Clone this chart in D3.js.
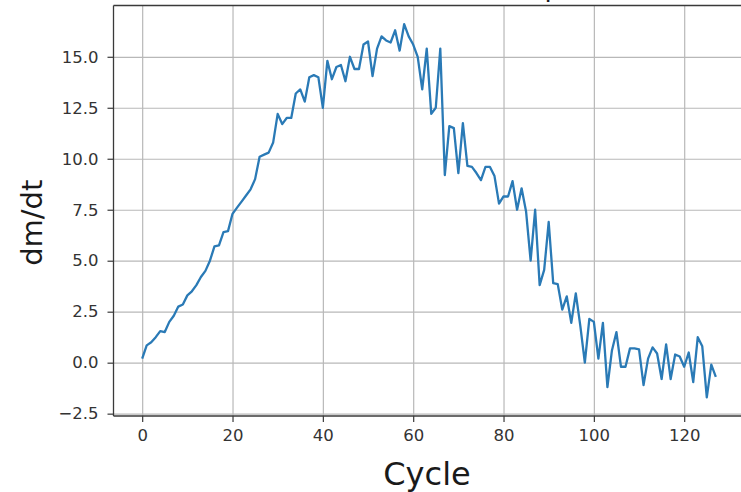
<!DOCTYPE html>
<html>
<head>
<meta charset="utf-8">
<script src="https://cdn.jsdelivr.net/npm/d3@7"></script>
<style>
  html, body { margin: 0; padding: 0; background: #fff; }
  svg { display: block; font-family: "DejaVu Sans", sans-serif; }
</style>
</head>
<body>
<svg id="chart" width="741" height="492"></svg>
<script>
// Mass-change rate per cycle
const dmdt = [
  0.2, 0.85, 1.0, 1.25, 1.55, 1.5, 2.0, 2.3, 2.75, 2.85,
  3.3, 3.5, 3.8, 4.2, 4.5, 5.0, 5.7, 5.75, 6.4, 6.45,
  7.3, 7.6, 7.9, 8.2, 8.5, 9.0, 10.1, 10.2, 10.3, 10.8,
  12.2, 11.7, 12.0, 12.0, 13.2, 13.4, 12.8, 14.0, 14.1, 14.0,
  12.5, 14.8, 13.9, 14.5, 14.6, 13.8, 15.0, 14.4, 14.4, 15.6,
  15.75, 14.05, 15.4, 16.0, 15.8, 15.7, 16.3, 15.3, 16.6, 16.0,
  15.6, 15.0, 13.4, 15.4, 12.2, 12.5, 15.4, 9.2, 11.6, 11.5,
  9.3, 11.75, 9.65, 9.6, 9.3, 8.95, 9.6, 9.6, 9.15, 7.8,
  8.15, 8.15, 8.9, 7.5, 8.55, 7.4, 5.0, 7.5, 3.8, 4.55,
  6.9, 3.9, 3.85, 2.6, 3.25, 1.95, 3.4, 1.8, 0.0, 2.15,
  2.0, 0.2, 1.95, -1.2, 0.6, 1.5, -0.2, -0.2, 0.7, 0.7,
  0.65, -1.1, 0.2, 0.75, 0.45, -0.8, 0.9, -0.8, 0.4, 0.3,
  -0.2, 0.5, -0.95, 1.25, 0.8, -1.7, -0.1, -0.7
];
const cycle = dmdt.map((_, i) => i);

const xTicks = [0, 20, 40, 60, 80, 100, 120];
const yTicks = [-2.5, 0, 2.5, 5, 7.5, 10, 12.5, 15];

const titleText = "dm/dt at each temp";
const xLabel = "Cycle";
const yLabel = "dm/dt";

// Plot area (the right edge runs just past the canvas)
const plotLeft = 113.5, plotRight = 744.5, plotTop = 5.5, plotBottom = 416;

const svg = d3.select("#chart");

// 5% padding around the data range on both axes
function padded(ext) {
  const p = (ext[1] - ext[0]) * 0.05;
  return [ext[0] - p, ext[1] + p];
}

const x = d3.scaleLinear().domain(padded(d3.extent(cycle))).range([plotLeft, plotRight]);
const y = d3.scaleLinear().domain(padded(d3.extent(dmdt))).range([plotBottom, plotTop]);

svg.append("defs").append("clipPath").attr("id", "plot-clip")
  .append("rect")
  .attr("x", plotLeft).attr("y", plotTop)
  .attr("width", plotRight - plotLeft).attr("height", plotBottom - plotTop);

// Grid
const grid = svg.append("g").attr("class", "grid");
grid.append("g")
  .attr("transform", `translate(0,${plotBottom})`)
  .call(d3.axisBottom(x).tickValues(xTicks).tickSize(-(plotBottom - plotTop)).tickFormat(""))
  .call(g => g.select(".domain").remove())
  .call(g => g.selectAll("line").attr("stroke", "#b8b8b8").attr("stroke-width", 1.2));
grid.append("g")
  .attr("transform", `translate(${plotLeft},0)`)
  .call(d3.axisLeft(y).tickValues(yTicks).tickSize(-(plotRight - plotLeft)).tickFormat(""))
  .call(g => g.select(".domain").remove())
  .call(g => g.selectAll("line").attr("stroke", "#b8b8b8").attr("stroke-width", 1.2));

// Data line
const line = d3.line()
  .x((d, i) => x(cycle[i]))
  .y(d => y(d));

svg.append("path")
  .datum(dmdt)
  .attr("clip-path", "url(#plot-clip)")
  .attr("fill", "none")
  .attr("stroke", "#2a7ab6")
  .attr("stroke-width", 2.3)
  .attr("stroke-linejoin", "round")
  .attr("d", line);

// Spines
const spine = svg.append("g").attr("stroke", "#3a3a3a").attr("stroke-width", 1.3).attr("fill", "none");
spine.append("line").attr("x1", plotLeft).attr("x2", plotLeft).attr("y1", plotTop).attr("y2", plotBottom);
spine.append("line").attr("x1", plotLeft).attr("x2", plotRight).attr("y1", plotTop).attr("y2", plotTop);
spine.append("line").attr("x1", plotLeft).attr("x2", plotRight).attr("y1", plotBottom).attr("y2", plotBottom);
spine.append("line").attr("x1", plotRight).attr("x2", plotRight).attr("y1", plotTop).attr("y2", plotBottom);

// Axes with ticks and labels
const fmtY = d3.format(".1f");
svg.append("g")
  .attr("transform", `translate(0,${plotBottom})`)
  .call(d3.axisBottom(x).tickValues(xTicks).tickSize(6).tickPadding(7).tickFormat(d3.format("d")))
  .call(g => g.select(".domain").remove())
  .call(g => g.selectAll("line").attr("stroke", "#3a3a3a").attr("stroke-width", 1.2))
  .call(g => g.selectAll("text").attr("fill", "#333").attr("font-size", 16.5)
    .attr("font-family", "DejaVu Sans, sans-serif"));

svg.append("g")
  .attr("transform", `translate(${plotLeft},0)`)
  .call(d3.axisLeft(y).tickValues(yTicks).tickSize(6).tickPadding(9).tickFormat(fmtY))
  .call(g => g.select(".domain").remove())
  .call(g => g.selectAll("line").attr("stroke", "#3a3a3a").attr("stroke-width", 1.2))
  .call(g => g.selectAll("text").attr("fill", "#333").attr("font-size", 16.5)
    .attr("font-family", "DejaVu Sans, sans-serif"));

// Axis titles
svg.append("text")
  .attr("x", (plotLeft + plotRight) / 2 - 2)
  .attr("y", 485)
  .attr("text-anchor", "middle")
  .attr("font-size", 32)
  .attr("fill", "#1a1a1a")
  .text(xLabel);

svg.append("text")
  .attr("transform", `translate(42,${(plotTop + plotBottom) / 2 + 12}) rotate(-90)`)
  .attr("text-anchor", "middle")
  .attr("font-size", 29)
  .attr("fill", "#1a1a1a")
  .text(yLabel);

// Chart title, sitting just above the top of the canvas
svg.append("text")
  .attr("x", (plotLeft + plotRight) / 2)
  .attr("y", -4.5)
  .attr("text-anchor", "middle")
  .attr("font-size", 26.6)
  .attr("fill", "#1a1a1a")
  .text(titleText);
</script>
</body>
</html>
